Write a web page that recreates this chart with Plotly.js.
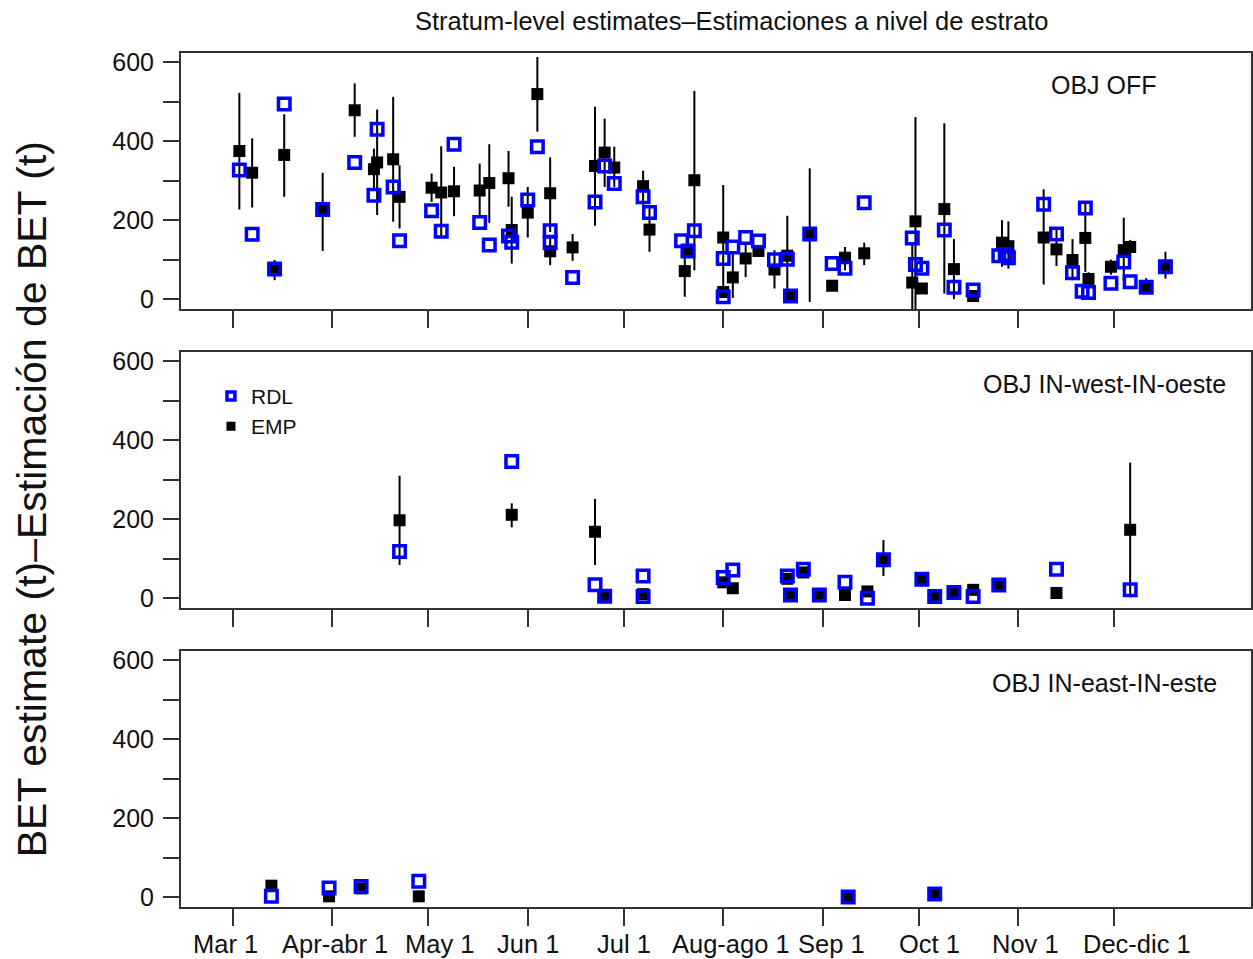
<!DOCTYPE html>
<html>
<head>
<meta charset="utf-8">
<script src="https://cdn.plot.ly/plotly-3.0.1.min.js"></script>
<style>
  html, body { margin: 0; padding: 0; background: #ffffff; }
  #chart { width: 1253px; height: 959px; }
</style>
</head>
<body>
<div id="chart"></div>
<script>
// Month ticks shared by the three strata panels
const monthTicks = ['2021-03-01', '2021-04-01', '2021-05-01', '2021-06-01', '2021-07-01',
                    '2021-08-01', '2021-09-01', '2021-10-01', '2021-11-01', '2021-12-01'];
const monthLabels = ['Mar 1', 'Apr-abr 1', 'May 1', 'Jun 1', 'Jul 1',
                     'Aug-ago 1', 'Sep 1', 'Oct 1', 'Nov 1', 'Dec-dic 1'];
const yTicks = [0, 100, 200, 300, 400, 500, 600];
const yLabels = ['0', '', '200', '', '400', '', '600'];

// OBJ OFF stratum
const offRdlDate = ['2021-03-03', '2021-03-07', '2021-03-14', '2021-03-17', '2021-03-29', '2021-04-08',
  '2021-04-15', '2021-04-14', '2021-04-20', '2021-04-22', '2021-05-02', '2021-05-05', '2021-05-09',
  '2021-05-17', '2021-05-20', '2021-05-26', '2021-05-27', '2021-06-01', '2021-06-04', '2021-06-08',
  '2021-06-08', '2021-06-15', '2021-06-22', '2021-06-25', '2021-06-28', '2021-07-07', '2021-07-09',
  '2021-07-19', '2021-07-21', '2021-07-23', '2021-08-01', '2021-08-01', '2021-08-04', '2021-08-08',
  '2021-08-12', '2021-08-17', '2021-08-21', '2021-08-22', '2021-08-28', '2021-09-04', '2021-09-08',
  '2021-09-14', '2021-09-29', '2021-09-30', '2021-10-02', '2021-10-09', '2021-10-12', '2021-10-18',
  '2021-10-26', '2021-10-28', '2021-10-29', '2021-11-09', '2021-11-13', '2021-11-18', '2021-11-22',
  '2021-11-21', '2021-11-23', '2021-11-30', '2021-12-04', '2021-12-06', '2021-12-11', '2021-12-17'];
const offRdlVal = [327, 164, 76, 494, 227, 346,
  430, 263, 284, 148, 224, 172, 392,
  194, 137, 160, 144, 251, 386, 173,
  143, 55, 246, 337, 293, 259, 219,
  148, 122, 173, 103, 6, 132, 156,
  147, 100, 101, 8, 165, 90, 78,
  244, 155, 88, 78, 175, 30, 23,
  110, 113, 105, 240, 165, 67, 231,
  20, 17, 40, 94, 44, 30, 82];

const offEmpDate = ['2021-03-03', '2021-03-07', '2021-03-14', '2021-03-17', '2021-03-29', '2021-04-08',
  '2021-04-14', '2021-04-15', '2021-04-20', '2021-04-22', '2021-05-02', '2021-05-05', '2021-05-09',
  '2021-05-17', '2021-05-20', '2021-05-26', '2021-05-27', '2021-06-01', '2021-06-04', '2021-06-08',
  '2021-06-08', '2021-06-15', '2021-06-22', '2021-06-25', '2021-06-28', '2021-07-07', '2021-07-09',
  '2021-07-20', '2021-07-21', '2021-07-23', '2021-08-01', '2021-08-01', '2021-08-04', '2021-08-08',
  '2021-08-12', '2021-08-17', '2021-08-21', '2021-08-22', '2021-08-28', '2021-09-04', '2021-09-08',
  '2021-09-14', '2021-09-29', '2021-09-30', '2021-10-02', '2021-10-09', '2021-10-12', '2021-10-18',
  '2021-10-27', '2021-10-29', '2021-11-09', '2021-11-13', '2021-11-18', '2021-11-22', '2021-11-23',
  '2021-11-30', '2021-12-04', '2021-12-06', '2021-12-11', '2021-12-17'];
const offEmpVal = [375, 320, 75, 365, 225, 478,
  329, 346, 354, 259, 282, 270, 273,
  275, 294, 306, 175, 219, 519, 268,
  121, 131, 337, 371, 333, 286, 176,
  71, 123, 301, 156, 18, 55, 103,
  122, 75, 110, 8, 165, 34, 105,
  116, 42, 197, 27, 228, 76, 8,
  143, 134, 156, 126, 99, 155, 51,
  82, 124, 132, 30, 82];
const offEmpLo = [227, 232, 48, 259, 122, 411,
  280, 213, 196, 179, 246, 154, 210,
  210, 193, 234, 90, 156, 424, 170,
  86, 97, 186, 284, 284, 234, 120,
  6, 110, 73, 6, 10, 3, 56,
  108, 27, 3, 0, -7, 34, 73,
  86, -66, -66, 15, 14, 0, 2,
  82, 77, 37, 84, 48, 69, 35,
  62, 48, 110, 15, 52];
const offEmpHi = [522, 407, 99, 468, 320, 546,
  381, 480, 512, 339, 318, 387, 335,
  343, 392, 375, 259, 284, 613, 359,
  160, 165, 487, 457, 386, 325, 234,
  111, 137, 527, 289, 25, 116, 142,
  136, 124, 211, 16, 331, 34, 132,
  143, 140, 461, 40, 445, 152, 14,
  200, 197, 278, 175, 152, 242, 68,
  100, 206, 150, 53, 120];

// OBJ IN-west stratum
const westRdlDate = ['2021-04-22', '2021-05-27', '2021-06-22', '2021-06-25', '2021-07-07', '2021-07-07',
  '2021-08-01', '2021-08-04', '2021-08-21', '2021-08-22', '2021-08-26', '2021-08-31', '2021-09-08',
  '2021-09-15', '2021-09-20', '2021-10-02', '2021-10-06', '2021-10-12', '2021-10-18', '2021-10-26',
  '2021-11-13', '2021-12-06'];
const westRdlVal = [118, 346, 34, 5, 56, 4,
  52, 71, 56, 8, 73, 8, 40,
  0, 97, 48, 4, 14, 4, 33,
  73, 21];
const westEmpDate = ['2021-04-22', '2021-05-27', '2021-06-22', '2021-06-25', '2021-07-07',
  '2021-08-01', '2021-08-04', '2021-08-21', '2021-08-22', '2021-08-26', '2021-08-31', '2021-09-08',
  '2021-09-15', '2021-09-20', '2021-10-02', '2021-10-06', '2021-10-12', '2021-10-18', '2021-10-26',
  '2021-11-13', '2021-12-06'];
const westEmpVal = [197, 211, 168, 5, 10,
  40, 25, 49, 8, 65, 8, 8,
  17, 97, 48, 4, 14, 21, 33,
  13, 173];
const westEmpLo = [84, 179, 84, 0, 2,
  30, 15, 40, 2, 55, 2, 2,
  8, 56, 30, 0, 8, 12, 22,
  8, 2];
const westEmpHi = [310, 240, 251, 12, 18,
  50, 38, 58, 14, 75, 14, 14,
  26, 147, 62, 8, 20, 28, 48,
  18, 343];

// OBJ IN-east stratum
const eastRdlDate = ['2021-03-13', '2021-03-31', '2021-04-10', '2021-04-28', '2021-09-09', '2021-10-06'];
const eastRdlVal = [2, 23, 27, 40, 0, 8];
const eastEmpDate = ['2021-03-13', '2021-03-31', '2021-04-10', '2021-04-28', '2021-09-09', '2021-10-06'];
const eastEmpVal = [29, 2, 22, 2, 0, 8];
const eastEmpLo = [22, 0, 16, 0, 0, 4];
const eastEmpHi = [36, 4, 28, 4, 0, 12];

const FONT = 'Liberation Sans, Arial, Helvetica, sans-serif';
const BLUE = '#0000ff';
const INK = '#111111';

// horizontal nudges (px) of the month labels under the bottom panel
const monthLabelShift = [-7, 3, 11, 0, 0, 8, 9, 11, 7, 23];

function empTrace(x, y, lo, hi, axisNum) {
  return {
    type: 'scatter', mode: 'markers', x: x, y: y,
    xaxis: axisNum === 1 ? 'x' : 'x' + axisNum,
    yaxis: axisNum === 1 ? 'y' : 'y' + axisNum,
    marker: { symbol: 'square', size: 12, color: '#000000', line: { width: 0 } },
    error_y: {
      type: 'data', symmetric: false,
      array: y.map((v, i) => hi[i] - v),
      arrayminus: y.map((v, i) => v - lo[i]),
      color: '#000000', thickness: 2, width: 0
    },
    cliponaxis: false, showlegend: false, hoverinfo: 'x+y'
  };
}
function rdlTrace(x, y, axisNum) {
  return {
    type: 'scatter', mode: 'markers', x: x, y: y,
    xaxis: axisNum === 1 ? 'x' : 'x' + axisNum,
    yaxis: axisNum === 1 ? 'y' : 'y' + axisNum,
    marker: { symbol: 'square-open', size: 11.5, color: BLUE, line: { width: 3.5, color: BLUE } },
    cliponaxis: false, showlegend: false, hoverinfo: 'x+y'
  };
}

const traces = [
  empTrace(offEmpDate, offEmpVal, offEmpLo, offEmpHi, 1),
  rdlTrace(offRdlDate, offRdlVal, 1),
  empTrace(westEmpDate, westEmpVal, westEmpLo, westEmpHi, 2),
  rdlTrace(westRdlDate, westRdlVal, 2),
  empTrace(eastEmpDate, eastEmpVal, eastEmpLo, eastEmpHi, 3),
  rdlTrace(eastRdlDate, eastRdlVal, 3),
  // legend keys
  { type: 'scatter', mode: 'markers', x: [null], y: [null], xaxis: 'x2', yaxis: 'y2', name: 'RDL',
    marker: { symbol: 'square-open', size: 8, color: BLUE, line: { width: 3.5, color: BLUE } } },
  { type: 'scatter', mode: 'markers', x: [null], y: [null], xaxis: 'x2', yaxis: 'y2', name: 'EMP',
    marker: { symbol: 'square', size: 9, color: '#000000', line: { width: 0 } } }
];

function xAxis(anchor) {
  return {
    type: 'date', anchor: anchor,
    range: ['2021-02-12 19:00', '2022-01-12 17:00'],
    tickmode: 'array', tickvals: monthTicks, ticktext: monthLabels,
    showticklabels: false,
    ticks: 'outside', ticklen: 17, tickwidth: 2, tickcolor: '#333333',
    showline: true, mirror: true, linecolor: '#333333', linewidth: 2,
    showgrid: false, zeroline: false
  };
}
function yAxis(anchor, domain) {
  return {
    anchor: anchor, domain: domain, range: [-25, 623],
    tickmode: 'array', tickvals: yTicks, ticktext: yLabels,
    ticks: 'outside', ticklen: 16, tickwidth: 2, tickcolor: '#333333',
    ticklabelstandoff: 4,
    showline: true, mirror: true, linecolor: '#333333', linewidth: 2,
    showgrid: false, zeroline: false,
    tickfont: { family: FONT, size: 25, color: INK }
  };
}

const panelLabel = (text, axisNum) => ({
  text: text,
  xref: (axisNum === 1 ? 'x' : 'x' + axisNum) + ' domain',
  yref: (axisNum === 1 ? 'y' : 'y' + axisNum) + ' domain',
  x: 0.863, y: 0.875, xanchor: 'center', yanchor: 'middle', showarrow: false,
  font: { family: FONT, size: 25, color: INK }
});

// month labels written below the bottom panel
const monthAnnotations = monthTicks.map((d, i) => ({
  text: monthLabels[i], xref: 'x3', yref: 'paper', x: d, y: -0.043,
  xshift: monthLabelShift[i], xanchor: 'center', yanchor: 'middle', showarrow: false,
  font: { family: FONT, size: 25.5, color: INK }
}));

const layout = {
  width: 1253, height: 959,
  margin: { l: 181, r: 2, t: 53, b: 52 },
  paper_bgcolor: '#ffffff', plot_bgcolor: '#ffffff',
  font: { family: FONT, color: INK },
  title: {
    text: 'Stratum-level estimates\u2013Estimaciones a nivel de estrato',
    xref: 'container', yref: 'container', x: 0.584, y: 0.978,
    xanchor: 'center', yanchor: 'middle',
    font: { family: FONT, size: 25.5, color: INK }
  },
  xaxis: xAxis('y'),
  yaxis: yAxis('x', [0.7002, 1]),
  xaxis2: xAxis('y2'),
  yaxis2: yAxis('x2', [0.3501, 0.6499]),
  xaxis3: xAxis('y3'),
  yaxis3: yAxis('x3', [0, 0.2998]),
  showlegend: true,
  legend: {
    x: 0.028, y: 0.622, xanchor: 'left', yanchor: 'top',
    bgcolor: 'rgba(0,0,0,0)', borderwidth: 0,
    font: { family: FONT, size: 21, color: INK },
    itemsizing: 'trace'
  },
  annotations: [
    panelLabel('OBJ OFF', 1),
    panelLabel('OBJ IN-west-IN-oeste', 2),
    panelLabel('OBJ IN-east-IN-este', 3),
    {
      text: 'BET estimate (t)\u2013Estimaci\u00f3n de BET (t)',
      xref: 'paper', yref: 'paper', x: -0.139, y: 0.4778,
      xanchor: 'center', yanchor: 'middle', textangle: -90, showarrow: false,
      font: { family: FONT, size: 41, color: INK }
    }
  ].concat(monthAnnotations)
};

Plotly.newPlot('chart', traces, layout, { displayModeBar: false, staticPlot: true });
</script>
</body>
</html>
